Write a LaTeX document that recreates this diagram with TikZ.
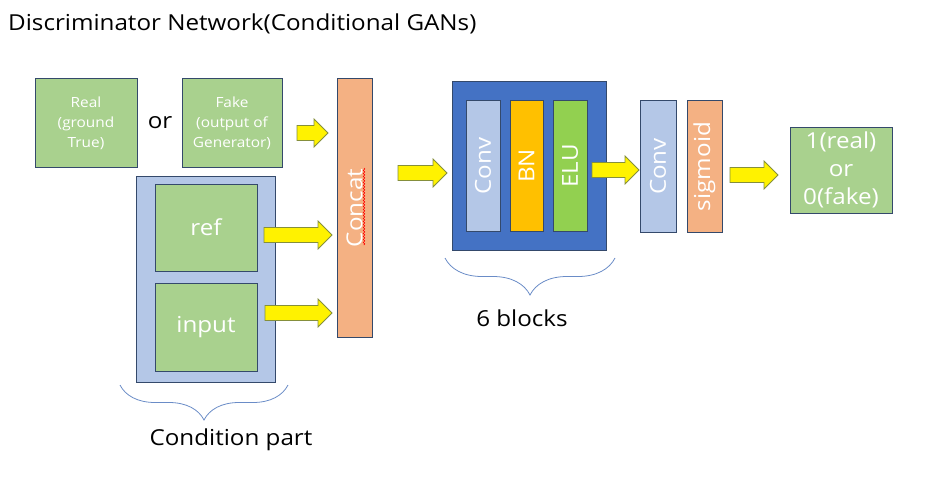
\documentclass[tikz,border=0pt]{standalone}
\usepackage{fontspec}
\setmainfont[FakeStretch=1.1]{Open Sans}
\usepackage{tikz}
\usetikzlibrary{decorations.pathreplacing,decorations.pathmorphing}
\definecolor{boxgreen}{HTML}{A9D18E}
\definecolor{lightblue}{HTML}{B4C7E7}
\definecolor{salmon}{HTML}{F4B183}
\definecolor{darkblue}{HTML}{4472C4}
\definecolor{gold}{HTML}{FFC000}
\definecolor{limegreen}{HTML}{92D050}
\definecolor{edge}{HTML}{34496B}
\definecolor{arrowedge}{HTML}{858F3C}
\definecolor{braceblue}{HTML}{6A8CC7}
\newcommand{\bigtxt}{\fontsize{22}{28}\selectfont}
\newcommand{\smalltxt}{\fontsize{14}{20}\selectfont}
\tikzstyle{box} = [rectangle, draw=edge, line width=1pt, fill=boxgreen,
  text=white, align=center, inner sep=0pt]
\tikzstyle{layer} = [box, rotate=90, minimum width=130pt, font=\bigtxt]
\tikzstyle{yarrow} = [draw=arrowedge, fill=yellow, line width=0.8pt, line join=miter]
\tikzstyle{brace} = [draw=braceblue, line width=0.8pt, decorate,
  decoration={brace, mirror, amplitude=35pt}]
% block arrow: name, left x, centre y, length
\newcommand{\blockarrow}[4]{%
  \draw[yarrow] (#2,#3-7.5) -- ++(#4-14,0) -- ++(0,-6.5) -- ++(14,14)
    -- ++(-14,14) -- ++(0,-6.5) -- ++(-#4+14,0) -- cycle;
  \coordinate (#1) at (#2+#4/2,#3);}

\begin{document}
\begin{tikzpicture}[x=1pt, y=-1pt]
    \useasboundingbox (0,0) rectangle (925,484);
    \node[anchor=west, inner sep=0pt, font=\bigtxt] (title) at (8,24) {Discriminator Network(Conditional GANs)};

    % inputs
    \node[box, minimum width=102pt, minimum height=88pt, font=\smalltxt] (real) at (86,123) {Real\\(ground\\True)};
    \node[font=\bigtxt] (or) at (160,123) {or};
    \node[box, minimum width=100pt, minimum height=88pt, font=\smalltxt] (fake) at (232,123) {Fake\\(output of\\Generator)};

    % condition part
    \node[box, fill=lightblue, minimum width=139pt, minimum height=206pt] (cond) at (205.5,279) {};
    \node[box, minimum width=102pt, minimum height=87pt, font=\bigtxt] (ref) at (206,227.5) {ref};
    \node[box, minimum width=102pt, minimum height=88pt, font=\bigtxt] (input) at (206,327) {input};
    \draw[brace] (120,385) -- (288,385);
    \node[font=\bigtxt] (condlabel) at (231,440) {Condition part};

    \node[layer, fill=salmon, minimum width=258pt, minimum height=35pt] (concat) at (354.5,208) {Concat};
    \draw[red, line width=0.6pt, decorate, decoration={snake, amplitude=0.8pt, segment length=3pt}]
      ([xshift=9.5pt, yshift=40pt]concat.center) -- ([xshift=9.5pt, yshift=-37pt]concat.center);

    % 6 blocks
    \node[box, fill=darkblue, minimum width=154pt, minimum height=168pt] (blocks) at (529,166) {};
    \node[layer, fill=lightblue, minimum height=34pt] (conv) at (483,166) {Conv};
    \node[layer, fill=gold, minimum height=33pt] (bn) at (526.5,166) {BN};
    \node[layer, fill=limegreen, minimum height=34pt] (elu) at (570,166) {ELU};
    \draw[brace, decoration={amplitude=37pt}] (445,258) -- (615,258);
    \node[font=\bigtxt] (blocklabel) at (522,318) {6 blocks};

    % output
    \node[layer, fill=lightblue, minimum width=131pt, minimum height=36pt] (conv2) at (658,166.5) {Conv};
    \node[layer, fill=salmon, minimum width=131pt, minimum height=35pt] (sigm) at (704.5,166.5) {sigmoid};
    \node[box, minimum width=102pt, minimum height=86pt, font=\bigtxt] (out) at (841,170) {1(real)\\or\\0(fake)};

    % arrows
    \blockarrow{a1}{297}{133}{31}
    \blockarrow{a2}{264}{235}{68}
    \blockarrow{a3}{265}{313}{67}
    \blockarrow{a4}{398}{173}{49}
    \blockarrow{a5}{592}{170}{47}
    \blockarrow{a6}{730}{175}{48}
\end{tikzpicture}
\end{document}
